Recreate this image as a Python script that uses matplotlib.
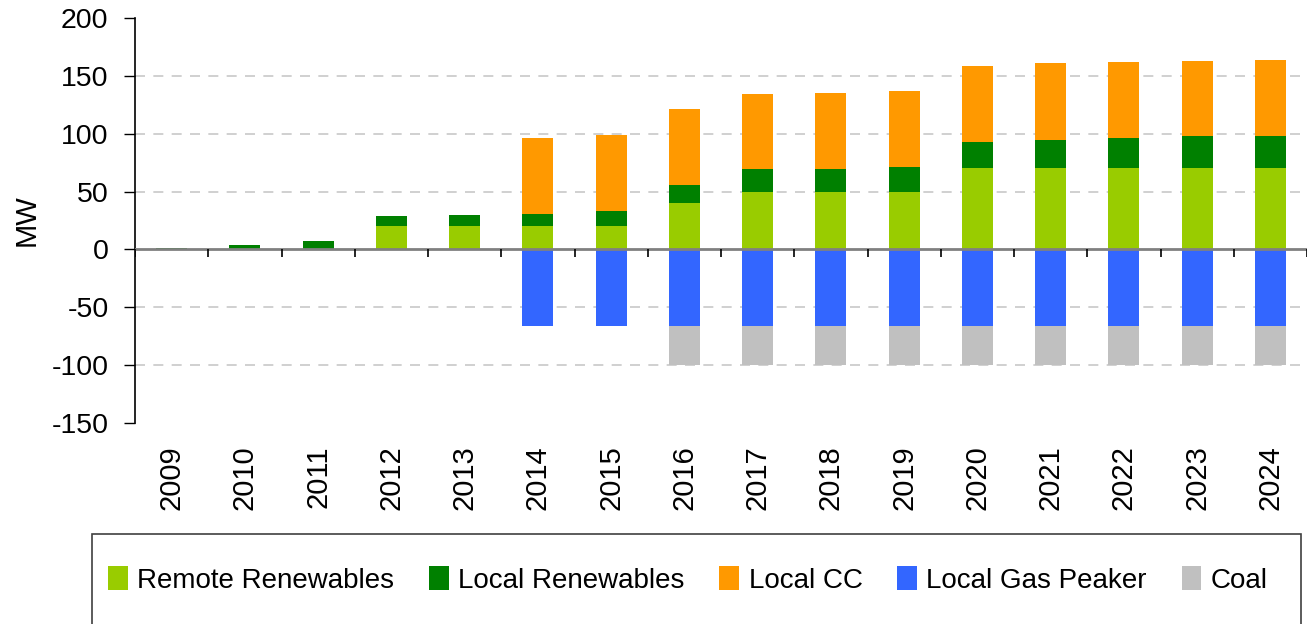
import numpy as np
import matplotlib
matplotlib.use('Agg')
import matplotlib.pyplot as plt
from matplotlib.patches import Rectangle

plt.rcParams['font.family'] = ['Liberation Sans', 'DejaVu Sans']
plt.rcParams['axes.unicode_minus'] = False

#=====data=====
years = ['2009', '2010', '2011', '2012', '2013', '2014', '2015', '2016',
         '2017', '2018', '2019', '2020', '2021', '2022', '2023', '2024']
remote_ren = [0, 0, 0, 20, 20, 20, 20, 40, 50, 50, 50, 70, 70, 70, 70, 70]
local_ren = [1.5, 3.5, 7, 8.5, 9.5, 11, 13.5, 15.5, 19.7, 19.7, 21.5, 23, 25, 26.5, 28.3, 28.3]
local_cc = [0, 0, 0, 0, 0, 65.5, 65, 65.6, 65, 65.7, 65.7, 65.7, 65.7, 65.7, 64.8, 65.7]
gas_peaker = [0, 0, 0, 0, 0, -66, -66, -66, -66, -66, -66, -66, -66, -66, -66, -66]
coal = [0, 0, 0, 0, 0, 0, 0, -34, -34, -34, -34, -34, -34, -34, -34, -34]

yticks = [200, 150, 100, 50, 0, -50, -100, -150]

#-----colors-----
c_remote = '#99CC00'
c_local = '#008000'
c_cc = '#FF9900'
c_gas = '#3366FF'
c_coal = '#C0C0C0'

fig = plt.figure(figsize=(13.07, 6.24), dpi=100)
ax = fig.add_axes([135/1307, 1-423/624, 1172/1307, 405/624])

x = np.arange(len(years))
w = 0.42
remote = np.array(remote_ren)
local = np.array(local_ren)
cc = np.array(local_cc)
gas = np.array(gas_peaker)

ax.bar(x, remote, w, color=c_remote, label='Remote Renewables', zorder=3)
ax.bar(x, local, w, bottom=remote, color=c_local, label='Local Renewables', zorder=3)
ax.bar(x, cc, w, bottom=remote+local, color=c_cc, label='Local CC', zorder=3)
ax.bar(x, gas, w, color=c_gas, label='Local Gas Peaker', zorder=3)
ax.bar(x, coal, w, bottom=gas, color=c_coal, label='Coal', zorder=3)

ax.set_xlim(-0.5, len(years)-0.5)
ax.set_ylim(-150, 200)
ax.set_yticks(yticks)
ax.tick_params(axis='y', labelsize=20.5, length=8, width=1, direction='out', pad=11)

# gridlines
for yv in yticks[1:-1]:
    if yv != 0:
        ax.axhline(yv, color='#C8C8C8', lw=1.2, ls=(0, (6, 5)), zorder=1)

# zero axis with category separator ticks
ax.axhline(0, color='#808080', lw=2, zorder=4)
ax.vlines(np.arange(len(years)+1)-0.5, 0, -6.5, color='black', lw=1.2, zorder=4)

ax.set_xticks(x)
ax.set_xticklabels(years, rotation=90, fontsize=21)
ax.tick_params(axis='x', length=0, pad=16)

for s in ['top', 'right', 'bottom']:
    ax.spines[s].set_visible(False)
ax.spines['left'].set_linewidth(1.2)

ax.set_ylabel('MW', fontsize=21, labelpad=8)

#legend box
fig.patches.append(Rectangle((92/1307, -0.01), 1209/1307, 1-534/624+0.01,
                             transform=fig.transFigure, fill=False,
                             edgecolor='#404040', lw=1.2))
handles, labels = ax.get_legend_handles_labels()
fig.legend(handles, labels, loc='center', bbox_to_anchor=(688/1307, 1-580/624),
           ncol=5, frameon=False, fontsize=20, handlelength=0.7, handleheight=0.9,
           handletextpad=0.35, columnspacing=1.25, borderaxespad=0)

fig.savefig('out.png', dpi=100)
